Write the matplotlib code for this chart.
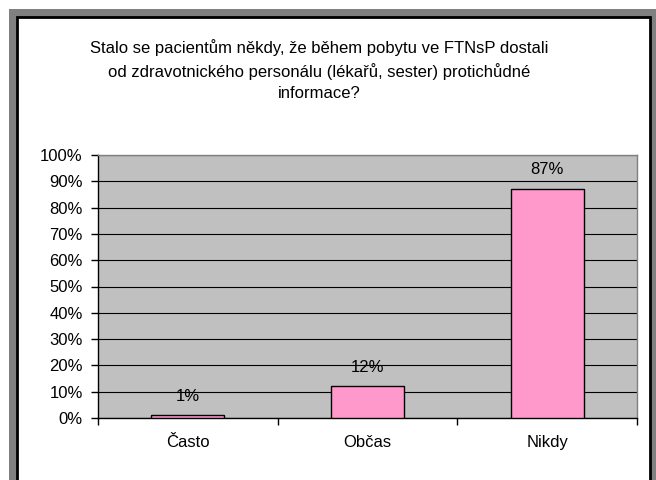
import matplotlib

matplotlib.use("Agg")
import matplotlib.pyplot as plt  # noqa: E402
from matplotlib.patches import Rectangle  # noqa: E402

plt.rcParams["font.family"] = ["Liberation Sans", "DejaVu Sans"]

# data
categories = ["Často", "Občas", "Nikdy"]
values = [1, 12, 87]
value_labels = ["1%", "12%", "87%"]
yticks = list(range(0, 101, 10))
title = ("Stalo se pacientům někdy, že během pobytu ve FTNsP dostali\n"
         "od zdravotnického personálu (lékařů, sester) protichůdné\n"
         "informace?")

W, H = 656, 480
FS = 12


def fx(px):
    return px / W


def fy(py):
    return 1 - py / H


fig = plt.figure(figsize=(W / 100, H / 100), dpi=100)
fig.patch.set_facecolor("white")

# gray frame + white chart area with black border
fig.add_artist(Rectangle((fx(9), fy(490)), fx(656) - fx(9), fy(9) - fy(490),
                         transform=fig.transFigure, facecolor="#808080",
                         edgecolor="none", zorder=0))
fig.add_artist(Rectangle((fx(17), fy(490)), fx(650) - fx(17), fy(17) - fy(490),
                         transform=fig.transFigure, facecolor="white",
                         edgecolor="black", linewidth=2, zorder=0))

ax = fig.add_axes([fx(98), fy(418), fx(637) - fx(98), fy(155) - fy(418)])
ax.set_facecolor("#C0C0C0")

x = list(range(len(categories)))
ax.bar(x, values, width=0.405, color="#FF99CC", edgecolor="black",
       linewidth=1, zorder=3)
for xi, v, lab in zip(x, values, value_labels):
    ax.text(xi, v + 4.5, lab, ha="center", va="bottom", fontsize=FS, zorder=4)

ax.set_xlim(-0.5, len(categories) - 0.5)
ax.set_ylim(0, 100)
ax.set_yticks(yticks)
ax.set_yticklabels([f"{t}%" for t in yticks], fontsize=FS)
ax.yaxis.grid(True, color="black", linewidth=0.8, zorder=1)
ax.set_axisbelow(True)

ax.set_xticks(x)
ax.set_xticklabels(categories, fontsize=FS)
ax.tick_params(axis="x", length=0, pad=12)
ax.set_xticks([-0.5, 0.5, 1.5, 2.5], minor=True)
ax.tick_params(axis="x", which="minor", length=5, width=1, color="black",
               direction="out")
ax.tick_params(axis="y", length=5, width=1, direction="out", pad=6)

for side in ("left", "bottom"):
    ax.spines[side].set_color("black")
    ax.spines[side].set_linewidth(1)
for side in ("top", "right"):
    ax.spines[side].set_color("#808080")
    ax.spines[side].set_linewidth(1)

fig.text(fx(319), fy(70), title, ha="center", va="center", fontsize=FS,
         linespacing=1.48)

fig.savefig("out.png", dpi=100)
